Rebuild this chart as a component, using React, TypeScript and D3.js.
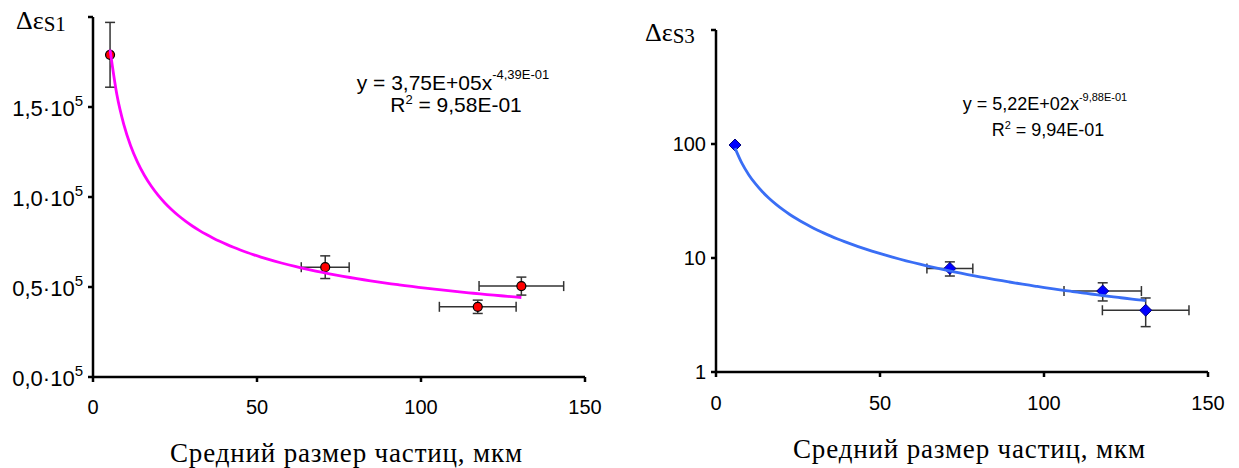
import React from "react";
import * as d3 from "d3";

// ---------- data ----------
const sizesS1 = [5.2, 70.8, 117.3, 130.6];
const valuesS1 = [1.79e5, 0.61e5, 0.39e5, 0.505e5];
const xErrS1 = [0, 7.3, 11.7, 12.9];
const yErrS1 = [0.18e5, 0.063e5, 0.037e5, 0.05e5];
const fitS1 = { a: 3.75e5, b: -0.439, from: 5.2, to: 130.6 };

const sizesS3 = [5.8, 71.3, 117.9, 131];
const valuesS3 = [98, 8.1, 5.13, 3.48];
const xErrS3 = [0, 7, 11.8, 13.2];
const yErrS3 = [0, 1.15, 0.93, 0.98];
const fitS3 = { a: 522, b: -0.988, from: 5.8, to: 131 };

const xTicks = [0, 50, 100, 150];
const yTicksS1 = [0, 0.5e5, 1.0e5, 1.5e5, 2.0e5];
const yTickLabelsS1 = ["0,0·10", "0,5·10", "1,0·10", "1,5·10", ""];
const yTicksS3 = [1, 10, 100, 1000];
const yTickLabelsS3 = ["1", "10", "100", ""];

const xTitle = "Средний размер частиц, мкм";

const ARIAL = "'Liberation Sans', Arial, sans-serif";
const TIMES = "'Liberation Serif', 'Times New Roman', serif";

function samples(from: number, to: number, n: number) {
  const out: number[] = [];
  for (let i = 0; i <= n; i++) out.push(from + ((to - from) * i) / n);
  return out;
}

type PanelProps = {
  x: d3.ScaleLinear<number, number>;
  y: any;
  sizes: number[];
  values: number[];
  xErr: number[];
  yErr: number[];
  fit: { a: number; b: number; from: number; to: number };
  curveColor: string;
  marker: "circle" | "diamond";
  yTicks: number[];
  yTickLabels: string[];
  sup5: boolean;
  xLabelBaseline: number;
  titleBaseline: number;
};

function Panel(p: PanelProps) {
  const [x0, x1] = p.x.range();
  const [yb, yt] = p.y.range();
  const line = d3
    .line<number>()
    .x((d) => p.x(d))
    .y((d) => p.y(p.fit.a * Math.pow(d, p.fit.b)))
    .curve(d3.curveMonotoneX);
  const xs = samples(p.fit.from, p.fit.to, 60);
  const ink = "#000";
  const err = "#333";
  return (
    <g>
      {p.sizes.map((s, i) => {
        const cx = p.x(s);
        const cy = p.y(p.values[i]);
        const els: any[] = [];
        if (p.yErr[i] > 0) {
          const ya = p.y(p.values[i] + p.yErr[i]);
          const yb2 = p.y(p.values[i] - p.yErr[i]);
          els.push(
            <line key="v" x1={cx} x2={cx} y1={ya} y2={yb2} stroke={err} strokeWidth={1.5} />,
            <line key="vt" x1={cx - 5} x2={cx + 5} y1={ya} y2={ya} stroke={err} strokeWidth={1.5} />,
            <line key="vb" x1={cx - 5} x2={cx + 5} y1={yb2} y2={yb2} stroke={err} strokeWidth={1.5} />
          );
        }
        if (p.xErr[i] > 0) {
          const xa = p.x(s - p.xErr[i]);
          const xb = p.x(s + p.xErr[i]);
          els.push(
            <line key="h" x1={xa} x2={xb} y1={cy} y2={cy} stroke={err} strokeWidth={1.5} />,
            <line key="hl" x1={xa} x2={xa} y1={cy - 5} y2={cy + 5} stroke={err} strokeWidth={1.5} />,
            <line key="hr" x1={xb} x2={xb} y1={cy - 5} y2={cy + 5} stroke={err} strokeWidth={1.5} />
          );
        }
        return <g key={i}>{els}</g>;
      })}
      {p.sizes.map((s, i) => {
        const cx = p.x(s);
        const cy = p.y(p.values[i]);
        if (p.marker === "circle")
          return <circle key={i} cx={cx} cy={cy} r={4.5} fill="#FF0000" stroke="#000" strokeWidth={1.2} />;
        const r = 6;
        return (
          <path
            key={i}
            d={`M${cx},${cy - r}L${cx + r},${cy}L${cx},${cy + r}L${cx - r},${cy}Z`}
            fill="#0000FF"
            stroke="#000080"
            strokeWidth={1}
          />
        );
      })}
      <path d={line(xs) || ""} fill="none" stroke={p.curveColor} strokeWidth={2.8} />
      <line x1={x0} x2={x1} y1={yb} y2={yb} stroke={ink} strokeWidth={2.5} />
      <line x1={x0} x2={x0} y1={yb} y2={yt} stroke={ink} strokeWidth={2.5} />
      {xTicks.map((t) => (
        <g key={"xt" + t}>
          <line x1={p.x(t)} x2={p.x(t)} y1={yb} y2={yb + 5} stroke={ink} strokeWidth={2.5} />
          <text x={p.x(t)} y={p.xLabelBaseline} textAnchor="middle" fontFamily={ARIAL} fontSize={20} fill="#000">
            {t}
          </text>
        </g>
      ))}
      {p.yTicks.map((t, i) => (
        <g key={"yt" + t}>
          <line x1={x0 - 5} x2={x0} y1={p.y(t)} y2={p.y(t)} stroke={ink} strokeWidth={2.5} />
          {p.yTickLabels[i] !== "" && (
            <text
              x={x0 - 10}
              y={p.y(t) + (p.sup5 ? 9 : 7)}
              textAnchor="end"
              fontFamily={ARIAL}
              fontSize={p.sup5 ? 22 : 20}
              fill="#000"
            >
              {p.yTickLabels[i]}
              {p.sup5 && (
                <tspan fontSize={15} dy={-10}>
                  5
                </tspan>
              )}
            </text>
          )}
        </g>
      ))}
      <text
        x={(x0 + x1) / 2 + 7}
        y={p.titleBaseline}
        textAnchor="middle"
        fontFamily={TIMES}
        fontSize={27}
        textLength={352}
        lengthAdjust="spacing"
        fill="#000"
      >
        {xTitle}
      </text>
    </g>
  );
}

function Equation(props: {
  cx: number;
  y1: number;
  gap: number;
  size: number;
  main: string;
  exp: string;
  r2: string;
}) {
  const s = props.size;
  const sup = Math.round(s * 0.62);
  const rise = Math.round(s * 0.5);
  const rise2 = Math.round(s * 0.38);
  return (
    <text fontFamily={ARIAL} fill="#000" fontSize={s} textAnchor="middle" x={props.cx} y={props.y1}>
      <tspan x={props.cx} y={props.y1}>
        {props.main}
        <tspan fontSize={sup} dy={-rise}>
          {props.exp}
        </tspan>
      </tspan>
      <tspan x={props.cx + 3} y={props.y1 + props.gap}>
        R
        <tspan fontSize={sup} dy={-rise2}>
          2
        </tspan>
        <tspan dy={rise2}>{" = " + props.r2}</tspan>
      </tspan>
    </text>
  );
}

export default function App() {
  const xL = d3.scaleLinear().domain([0, 150]).range([93, 585]);
  const yL = d3.scaleLinear().domain([0, 2e5]).range([377, 17]);
  const xR = d3.scaleLinear().domain([0, 150]).range([716, 1208]);
  const yR = d3.scaleLog().domain([1, 1000]).range([372, 30]);
  return (
    <div style={{ position: "fixed", left: 0, top: 0 }}>
      <svg width={1239} height={468} style={{ display: "block", background: "#fff" }}>
        <rect width={1239} height={468} fill="#fff" />
        <Panel
          x={xL}
          y={yL}
          sizes={sizesS1}
          values={valuesS1}
          xErr={xErrS1}
          yErr={yErrS1}
          fit={fitS1}
          curveColor="#FF00FF"
          marker="circle"
          yTicks={yTicksS1}
          yTickLabels={yTickLabelsS1}
          sup5={true}
          xLabelBaseline={414}
          titleBaseline={462}
        />
        <Panel
          x={xR}
          y={yR}
          sizes={sizesS3}
          values={valuesS3}
          xErr={xErrS3}
          yErr={yErrS3}
          fit={fitS3}
          curveColor="#3A6EF5"
          marker="diamond"
          yTicks={yTicksS3}
          yTickLabels={yTickLabelsS3}
          sup5={false}
          xLabelBaseline={410}
          titleBaseline={458}
        />
        <Equation cx={453} y1={90} gap={22} size={21} main="y = 3,75E+05x" exp="-4,39E-01" r2="9,58E-01" />
        <Equation cx={1045} y1={110} gap={26} size={18} main="y = 5,22E+02x" exp="-9,88E-01" r2="9,94E-01" />
        <text x={16} y={29} fontFamily={TIMES} fontSize={26} fill="#000">
          Δε
          <tspan fontSize={21} dy={2}>
            S1
          </tspan>
        </text>
        <text x={645} y={41} fontFamily={TIMES} fontSize={26} fill="#000">
          Δε
          <tspan fontSize={21} dy={2}>
            S3
          </tspan>
        </text>
      </svg>
    </div>
  );
}
